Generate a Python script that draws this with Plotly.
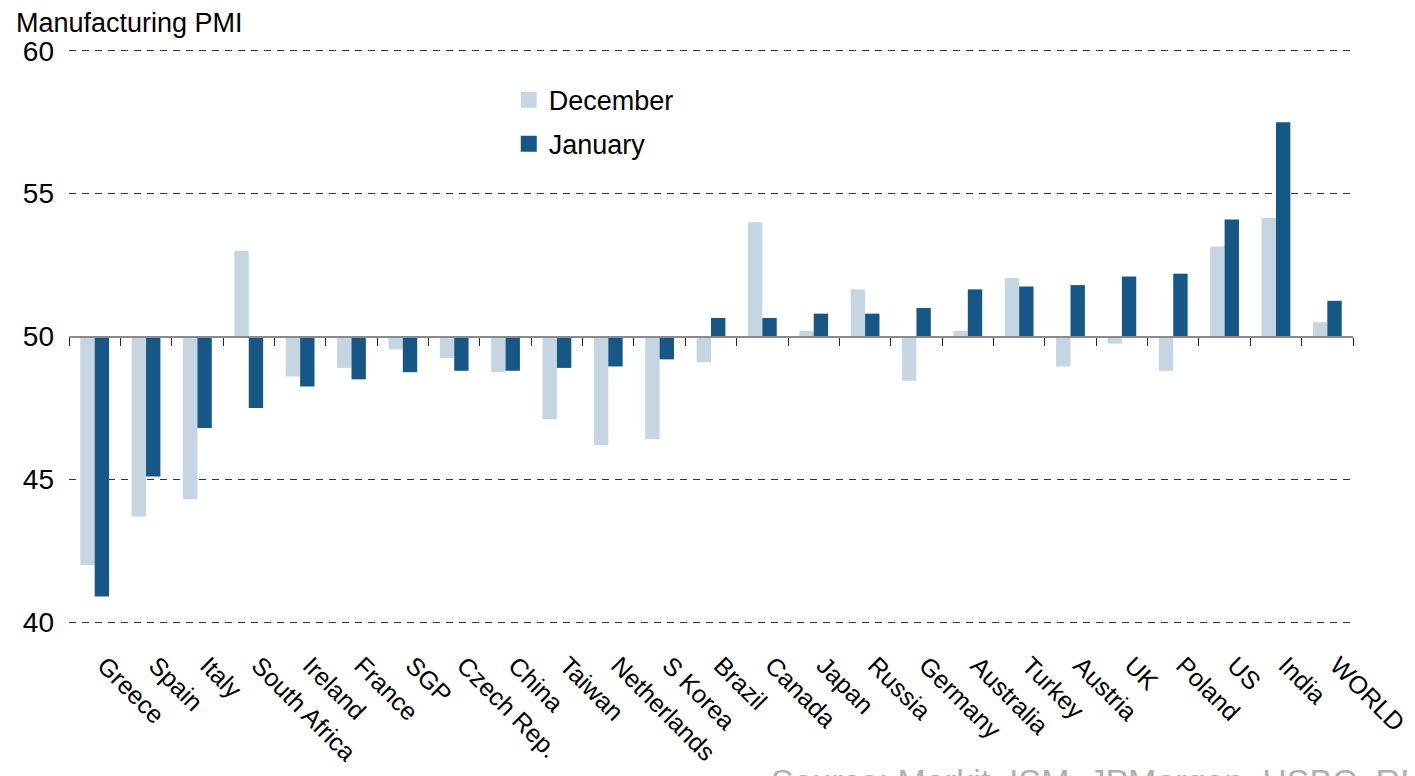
import plotly.graph_objects as go

categories = ["Greece", "Spain", "Italy", "South Africa", "Ireland", "France", "SGP",
              "Czech Rep.", "China", "Taiwan", "Netherlands", "S Korea", "Brazil",
              "Canada", "Japan", "Russia", "Germany", "Australia", "Turkey", "Austria",
              "UK", "Poland", "US", "India", "WORLD"]
december = [42.0, 43.7, 44.3, 53.0, 48.6, 48.9, 49.55, 49.25, 48.75, 47.1, 46.2, 46.4, 49.1,
            54.0, 50.2, 51.65, 48.45, 50.2, 52.05, 48.95, 49.75, 48.8, 53.15, 54.15, 50.5]
january = [40.9, 45.1, 46.8, 47.5, 48.25, 48.5, 48.75, 48.8, 48.8, 48.9, 48.95, 49.2, 50.65,
           50.65, 50.8, 50.8, 51.0, 51.65, 51.75, 51.8, 52.1, 52.2, 54.1, 57.5, 51.25]
y_ticks = [40, 45, 50, 55, 60]
BASE = 50
DEC_COLOR = "#c5d5e2"
JAN_COLOR = "#175786"
FONT = "Liberation Sans, Arial, sans-serif"

fig = go.Figure()
fig.add_trace(go.Bar(x=categories, y=[v - BASE for v in december], base=BASE,
                     marker=dict(color=DEC_COLOR, line=dict(width=0)),
                     name="December", showlegend=False,
                     customdata=december, hovertemplate="%{x}: %{customdata}<extra>December</extra>"))
fig.add_trace(go.Bar(x=categories, y=[v - BASE for v in january], base=BASE,
                     marker=dict(color=JAN_COLOR, line=dict(width=0)),
                     name="January", showlegend=False,
                     customdata=january, hovertemplate="%{x}: %{customdata}<extra>January</extra>"))
# legend entries
fig.add_trace(go.Scatter(x=[None], y=[None], mode="markers", name="December",
                         marker=dict(symbol="square", size=23, color=DEC_COLOR),
                         legendgroup="d"))
fig.add_trace(go.Scatter(x=[None], y=[None], mode="markers", name="January",
                         marker=dict(symbol="square", size=23, color=JAN_COLOR),
                         legendgroup="j"))
# invisible trace for the axis at 50
fig.add_trace(go.Scatter(x=categories, y=[None] * len(categories), xaxis="x2",
                         mode="markers", showlegend=False, hoverinfo="skip"))

fig.update_layout(
    width=1407, height=768,
    margin=dict(l=61, r=62, t=40, b=151, autoexpand=False),
    paper_bgcolor="white", plot_bgcolor="white",
    font=dict(family=FONT, size=24, color="black"),
    barmode="group", bargap=0.44, bargroupgap=0,
    showlegend=True,
    legend=dict(x=0.3425, y=0.952, xanchor="left", yanchor="top",
                bgcolor="rgba(0,0,0,0)", font=dict(size=27),
                traceorder="grouped", tracegroupgap=6, itemsizing="trace"),
    xaxis=dict(type="category", categoryorder="array", categoryarray=categories,
               showline=False, ticks="", showgrid=False, zeroline=False, automargin=False,
               tickangle=45, tickfont=dict(size=25), ticklabelstandoff=20,
               ticklabelshift=10, range=[-0.5, len(categories) - 0.5]),
    xaxis2=dict(type="category", categoryorder="array", categoryarray=categories,
                overlaying="x", anchor="free", position=0.5, side="bottom",
                showline=True, linecolor="#8a8a8a", linewidth=2,
                ticks="outside", ticklen=8, tickcolor="#222", tickwidth=1,
                tickson="boundaries", showticklabels=False, showgrid=False,
                range=[-0.5, len(categories) - 0.5]),
    yaxis=dict(range=[39.9, 60.1], tickvals=y_ticks, showgrid=True, gridcolor="#333",
               griddash="7px,6px", gridwidth=1, zeroline=False, showline=False,
               automargin=False, ticks="", tickfont=dict(size=28), ticklabelstandoff=14),
    annotations=[
        dict(text="Manufacturing PMI", xref="paper", yref="paper", x=-0.0428, y=1.0,
             xanchor="left", yanchor="bottom", showarrow=False, yshift=8,
             font=dict(size=27, color="black")),
        dict(text="Source: Markit, ISM, JPMorgan, HSBC, RBC", xref="paper", yref="paper",
             x=0.545, y=-0.234, xanchor="left", yanchor="top", showarrow=False,
             font=dict(size=34, color="#b0b0b0")),
    ],
)

fig.write_html("out.html")
